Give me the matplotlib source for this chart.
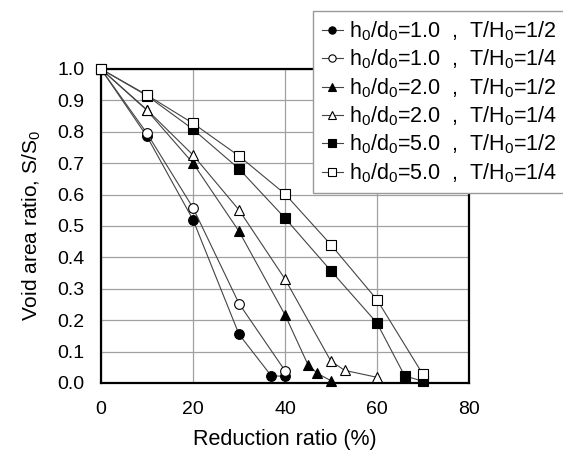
import matplotlib
matplotlib.use('Agg')
import matplotlib.pyplot as plt

plt.rcParams['font.family'] = ['Liberation Sans', 'DejaVu Sans']
plt.rcParams['mathtext.fontset'] = 'custom'
plt.rcParams['mathtext.rm'] = 'Liberation Sans'
plt.rcParams['mathtext.it'] = 'Liberation Sans'

# data
x_c12 = [0, 10, 20, 30, 37, 40]
y_c12 = [1.0, 0.785, 0.52, 0.155, 0.023, 0.021]

x_c14 = [0, 10, 20, 30, 40]
y_c14 = [1.0, 0.795, 0.558, 0.253, 0.039]

x_t22 = [0, 10, 20, 30, 40, 45, 47, 50]
y_t22 = [1.0, 0.868, 0.70, 0.483, 0.217, 0.058, 0.031, 0.007]

x_t24 = [0, 10, 20, 30, 40, 50, 53, 60]
y_t24 = [1.0, 0.87, 0.726, 0.551, 0.331, 0.069, 0.04, 0.018]

x_s52 = [0, 10, 20, 30, 40, 50, 60, 66, 70]
y_s52 = [1.0, 0.915, 0.808, 0.682, 0.525, 0.357, 0.191, 0.023, 0.005]

x_s54 = [0, 10, 20, 30, 40, 50, 60, 70]
y_s54 = [1.0, 0.917, 0.827, 0.723, 0.602, 0.44, 0.265, 0.027]

labels = [r'h$_0$/d$_0$=1.0  ,  T/H$_0$=1/2',
          r'h$_0$/d$_0$=1.0  ,  T/H$_0$=1/4',
          r'h$_0$/d$_0$=2.0  ,  T/H$_0$=1/2',
          r'h$_0$/d$_0$=2.0  ,  T/H$_0$=1/4',
          r'h$_0$/d$_0$=5.0  ,  T/H$_0$=1/2',
          r'h$_0$/d$_0$=5.0  ,  T/H$_0$=1/4']

fig = plt.figure(figsize=(5.63, 4.5), dpi=100)
ax = fig.add_axes([0.1794, 0.149, 0.6536, 0.6977])

series = [
    (x_c12, y_c12, 'o', 'black'),
    (x_c14, y_c14, 'o', 'white'),
    (x_t22, y_t22, '^', 'black'),
    (x_t24, y_t24, '^', 'white'),
    (x_s52, y_s52, 's', 'black'),
    (x_s54, y_s54, 's', 'white'),
]
for (xs, ys, m, fc), lab in zip(series, labels):
    ax.plot(xs, ys, marker=m, color='#444444', lw=0.8, markerfacecolor=fc,
            markeredgecolor='black', markeredgewidth=0.8, markersize=7,
            label=lab, clip_on=False, zorder=3)

ax.set_xlim(0, 80)
ax.set_ylim(0, 1.0)
ax.set_xticks([0, 20, 40, 60, 80])
ax.set_yticks([i / 10 for i in range(11)])
ax.set_yticklabels(['%.1f' % (i / 10) for i in range(11)])
ax.tick_params(length=0, labelsize=14)
ax.tick_params(axis='x', pad=13)
ax.tick_params(axis='y', pad=12)
ax.grid(True, color='#a0a0a0', lw=0.9)
ax.set_axisbelow(True)
for s in ax.spines.values():
    s.set_linewidth(1.6)
    s.set_color('black')

ax.set_xlabel('Reduction ratio (%)', fontsize=15.5, labelpad=8)
ax.set_ylabel('Void area ratio, S/S$_0$', fontsize=15, labelpad=10)

leg = fig.legend(loc='upper left', bbox_to_anchor=(0.556, 0.976), fontsize=15.5,
                 handlelength=1.0, handletextpad=0.25, labelspacing=0.22,
                 borderaxespad=0, borderpad=0.4, fancybox=False, framealpha=1,
                 markerscale=0.75)
leg.get_frame().set_edgecolor('#999999')
leg.get_frame().set_linewidth(1.0)

plt.savefig('out.png', dpi=100)
